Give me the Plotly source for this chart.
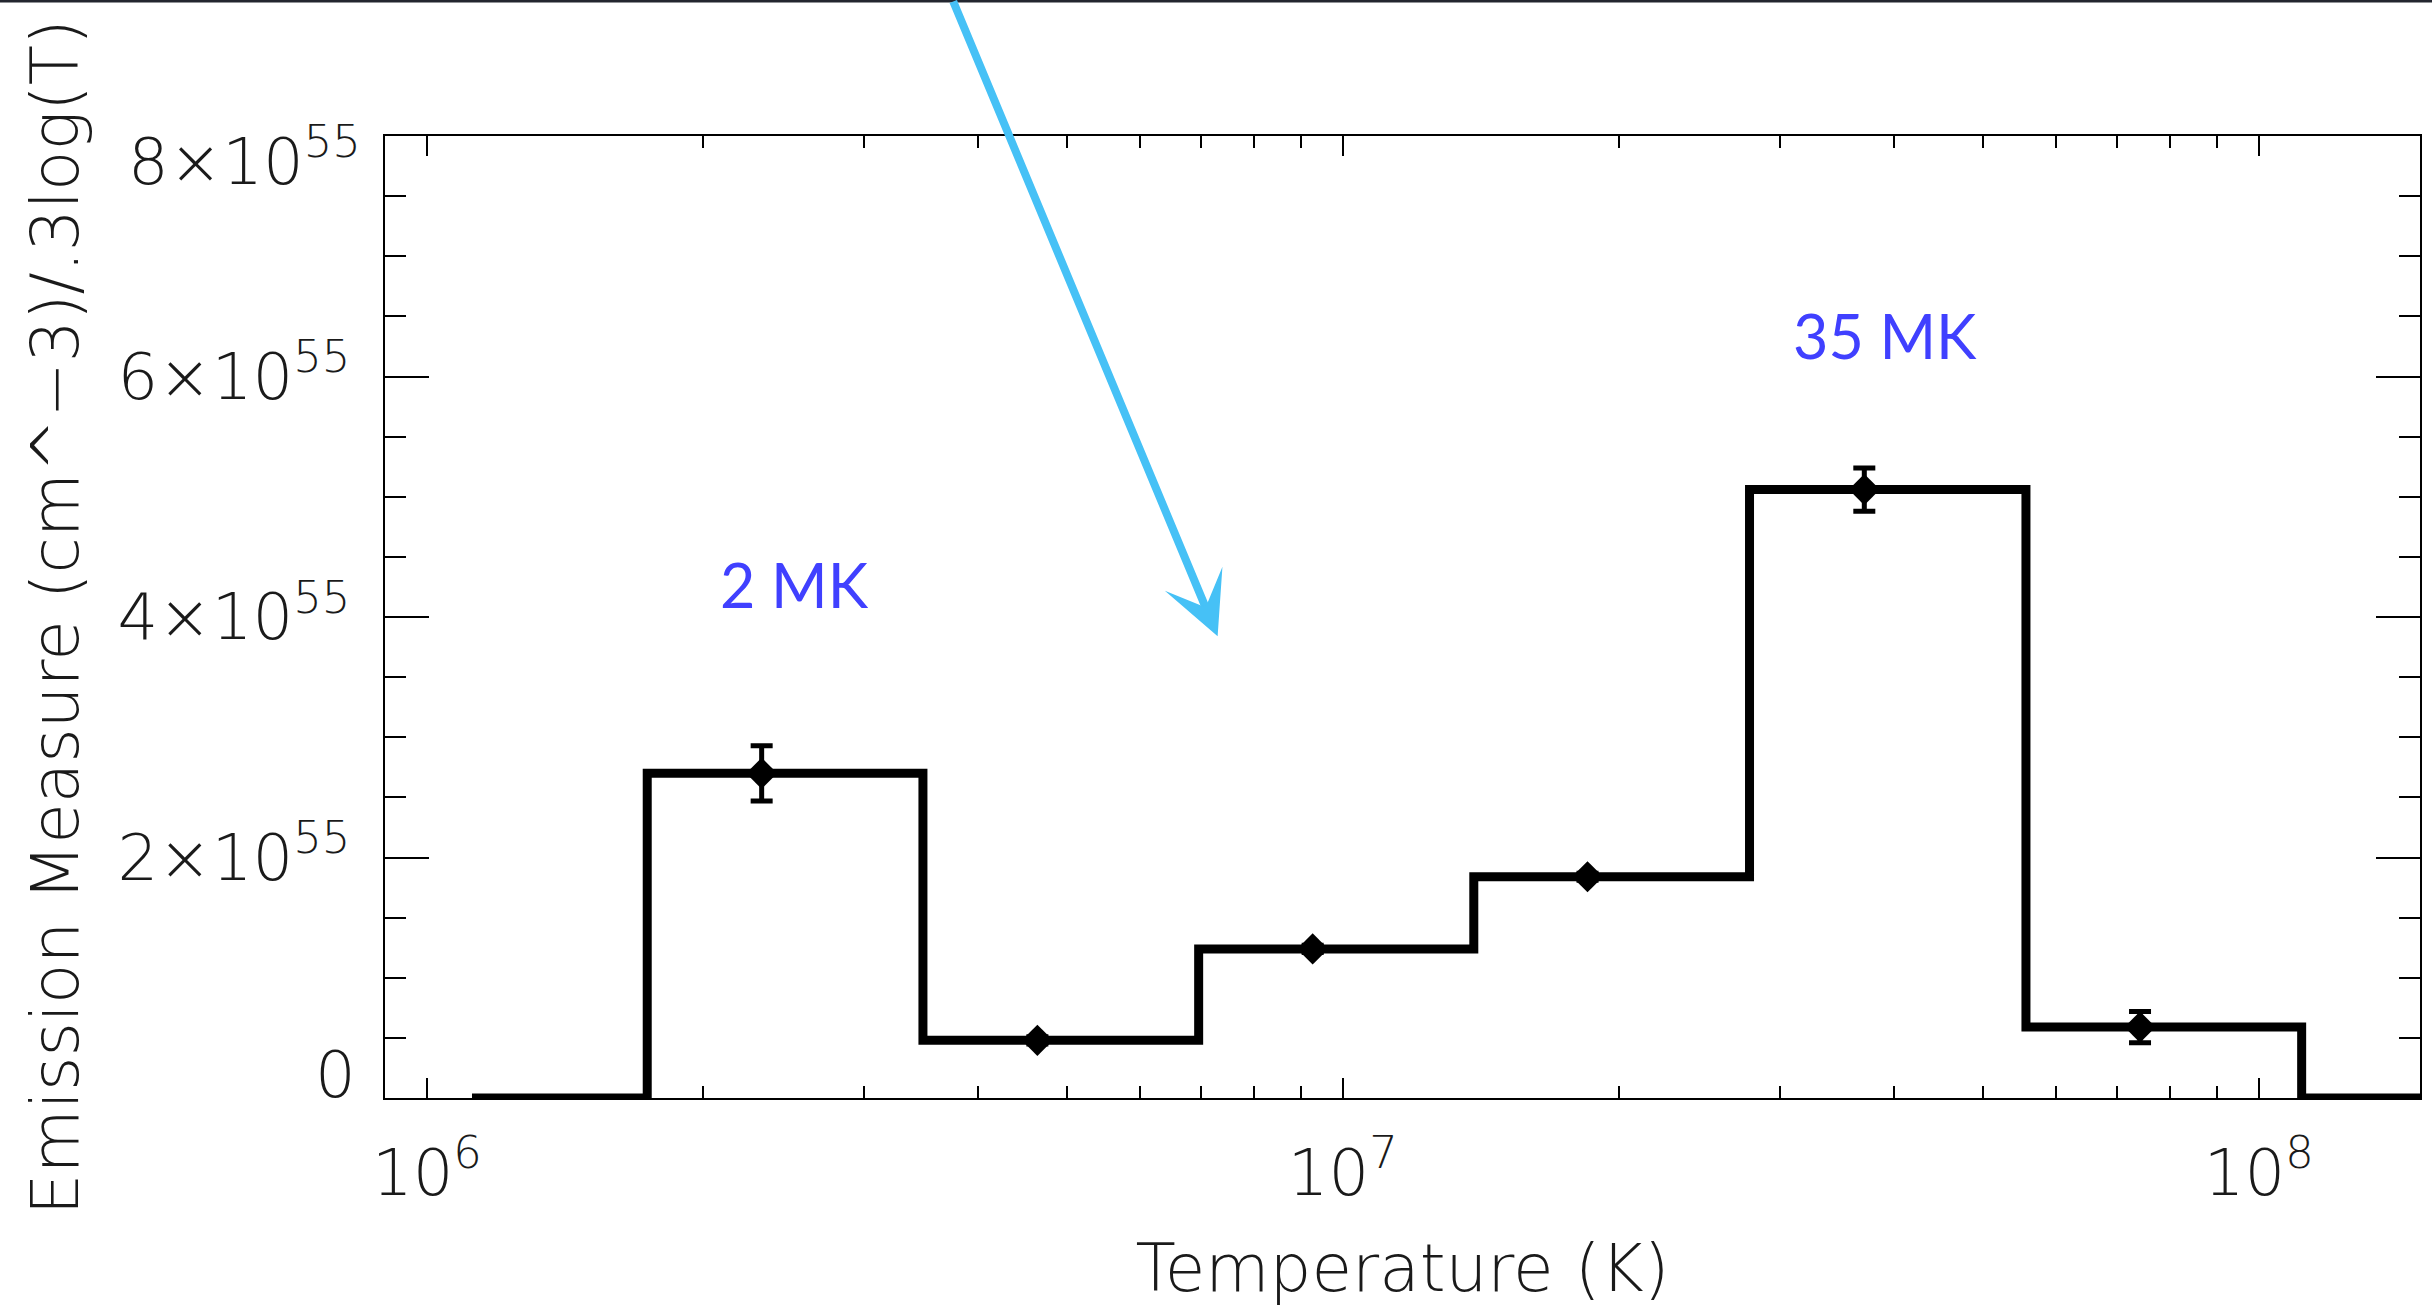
import math
import plotly.graph_objects as go

# Differential emission measure, binned in steps of 0.3 dex in temperature
bin_edges_K = [1.12e6, 1.74e6, 3.48e6, 6.96e6, 1.39e7, 2.78e7, 5.57e7, 1.114e8, 1.6e8]
bin_em_1e55 = [0.0, 2.70, 0.48, 1.24, 1.84, 5.06, 0.59, 0.0, 0.0]

# Fitted points with their 1-sigma uncertainties
point_T_K = [2.32e6, 4.64e6, 9.27e6, 1.85e7, 3.71e7, 7.42e7]
point_em_1e55 = [2.70, 0.48, 1.24, 1.84, 5.06, 0.59]
point_err_1e55 = [0.23, 0.03, 0.03, 0.03, 0.18, 0.13]

# Axis ticks
em_tick_1e55 = [0, 2, 4, 6, 8]
em_tick_text = ["", "2×10<sup>55</sup>", "4×10<sup>55</sup>", "6×10<sup>55</sup>", ""]
t_tick_vals = [1e6, 1e7, 1e8]
t_tick_text = ["10<sup>6</sup>", "10<sup>7</sup>", "10<sup>8</sup>"]
t_minor_vals = [m * 10 ** e for e in (6, 7) for m in range(2, 10)]
t_range_K = [9e5, 1.5e8]

# Peak labels (temperature of the peak, label text)
peak_T_K = [2.52e6, 3.91e7]
peak_em_1e55 = [4.27, 6.345]
peak_text = ["2 MK", "35 MK"]

SCALE = 1e55
HERSHEY = dict(family="DejaVu Sans", size=64, color="#1a1a1a", weight=200)
TITLE_FONT = dict(family="DejaVu Sans", size=66, color="#1a1a1a", weight=200)
PLOT_W = 2432 - 385 - 10

fig = go.Figure()

# Step histogram
fig.add_trace(go.Scatter(
    x=bin_edges_K,
    y=[v * SCALE for v in bin_em_1e55],
    mode="lines",
    line=dict(color="black", width=9, shape="hv"),
    hoverinfo="skip",
    showlegend=False,
))

# Points with error bars
fig.add_trace(go.Scatter(
    x=point_T_K,
    y=[v * SCALE for v in point_em_1e55],
    mode="markers",
    marker=dict(symbol="diamond", size=24, color="black"),
    error_y=dict(type="data", array=[e * SCALE for e in point_err_1e55],
                 color="black", thickness=5, width=11),
    showlegend=False,
))

fig.update_xaxes(
    type="log",
    range=[math.log10(t_range_K[0]), math.log10(t_range_K[1])],
    tickmode="array", tickvals=t_tick_vals, ticktext=t_tick_text,
    ticks="inside", ticklen=20, tickwidth=2, tickcolor="black",
    minor=dict(tickvals=t_minor_vals, ticks="inside", ticklen=12,
               tickwidth=2, tickcolor="black"),
    showline=True, linecolor="black", linewidth=2, mirror="ticks",
    showgrid=False, zeroline=False,
    tickfont=HERSHEY, ticklabelstandoff=18,
    title=dict(text="Temperature (K)", font=TITLE_FONT, standoff=36),
)

fig.update_yaxes(
    range=[0, 8 * SCALE],
    tickmode="array", tickvals=[v * SCALE for v in em_tick_1e55], ticktext=em_tick_text,
    ticks="inside", ticklen=44, tickwidth=2, tickcolor="black",
    minor=dict(dtick=0.5 * SCALE, tick0=0, ticks="inside", ticklen=21,
               tickwidth=2, tickcolor="black"),
    showline=True, linecolor="black", linewidth=2, mirror="ticks",
    showgrid=False, zeroline=False,
    tickfont=HERSHEY, ticklabelstandoff=20,
)

# Vertical axis title
fig.add_annotation(text="Emission Measure (cm^−3)/.3log(T)", textangle=-90,
                   xref="paper", x=(55 - 385) / PLOT_W, xanchor="center",
                   yref="paper", y=0.5, yanchor="middle",
                   showarrow=False, font=TITLE_FONT)

# End labels of the EM axis sit slightly inside the frame
fig.add_annotation(text="8×10<sup>55</sup>", xref="paper", x=0, xanchor="right",
                   yref="y", y=8 * SCALE, yanchor="middle", xshift=-22, yshift=-21,
                   showarrow=False, font=HERSHEY)
fig.add_annotation(text="0", xref="paper", x=0, xanchor="right",
                   yref="y", y=0, yanchor="middle", xshift=-27, yshift=23,
                   showarrow=False, font=HERSHEY)

# Peak temperature labels
for t, em, txt in zip(peak_T_K, peak_em_1e55, peak_text):
    fig.add_annotation(text=txt, x=math.log10(t), y=em * SCALE, xref="x", yref="y",
                       showarrow=False,
                       font=dict(family="Lato", size=61, color="#4040ff", weight=400))

# Pointer arrow coming down from above the frame
fig.add_annotation(text="", x=math.log10(7.3e6), y=3.84 * SCALE, xref="x", yref="y",
                   ax=-265, ay=-646, axref="pixel", ayref="pixel",
                   showarrow=True, arrowhead=3, arrowsize=1.3, arrowwidth=8,
                   arrowcolor="#46c1f6")

# Dark strip along the top edge
fig.add_shape(type="rect", xref="paper", yref="paper",
              x0=-0.3, x1=1.1, y0=1 + 133.5 / 962, y1=1 + 140 / 962,
              fillcolor="#23262f", line=dict(width=0), layer="above")

fig.update_layout(
    width=2432, height=1311, autosize=False,
    margin=dict(l=385, r=10, t=136, b=213, pad=0),
    paper_bgcolor="white", plot_bgcolor="white",
    font=HERSHEY,
)

fig.write_html("out.html")
